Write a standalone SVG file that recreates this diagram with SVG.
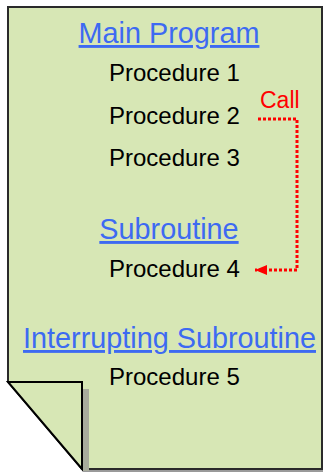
<svg xmlns="http://www.w3.org/2000/svg" width="324" height="473" viewBox="0 0 324 473">
<style>
.head{font-family:"Liberation Sans",Arial,sans-serif;font-size:28.8px;fill:#3d6af2;text-decoration:underline;text-anchor:middle}
.proc{font-family:"Liberation Sans",Arial,sans-serif;font-size:24px;fill:#000}
.call{font-family:"Liberation Sans",Arial,sans-serif;font-size:23px;fill:#ff0000}
.conn{fill:none;stroke:#ff0000;stroke-width:3;stroke-dasharray:3 2}
</style>
<defs>
<marker id="arr" markerWidth="14" markerHeight="12" refX="12" refY="5" orient="auto" markerUnits="userSpaceOnUse">
<path d="M0,0 L12,5 L0,10 Z" fill="#ff0000"/>
</marker>
</defs>
<g id="page">
<rect x="83" y="469" width="240" height="3" fill="#9a9a9a"/>
<path d="M8,7 H322 V469 H82 L8,382 Z" fill="#d7e7b5" stroke="#2a2a2a" stroke-width="2"/>
<rect x="83" y="389" width="6" height="82" fill="#a8ab9c"/>
<path d="M8,382 H82 V469 Z" fill="#d7e7b5" stroke="#000" stroke-width="2" stroke-linejoin="miter"/>
</g>
<g id="main-program"><text class="head" x="169" y="43">Main Program</text></g>
<g id="procedure-1"><text class="proc" x="109" y="81">Procedure 1</text></g>
<g id="procedure-2"><text class="proc" x="109" y="123.5">Procedure 2</text></g>
<g id="procedure-3"><text class="proc" x="109" y="166">Procedure 3</text></g>
<g id="subroutine"><text class="head" x="169" y="239">Subroutine</text></g>
<g id="procedure-4"><text class="proc" x="109" y="277">Procedure 4</text></g>
<g id="interrupting-subroutine"><text class="head" x="169.5" y="348">Interrupting Subroutine</text></g>
<g id="procedure-5"><text class="proc" x="109" y="385">Procedure 5</text></g>
<g id="connectors">
<path class="conn" d="M258,119 H297 V270 H255" marker-end="url(#arr)"/>
<text class="call" x="260" y="108">Call</text>
</g>
</svg>
